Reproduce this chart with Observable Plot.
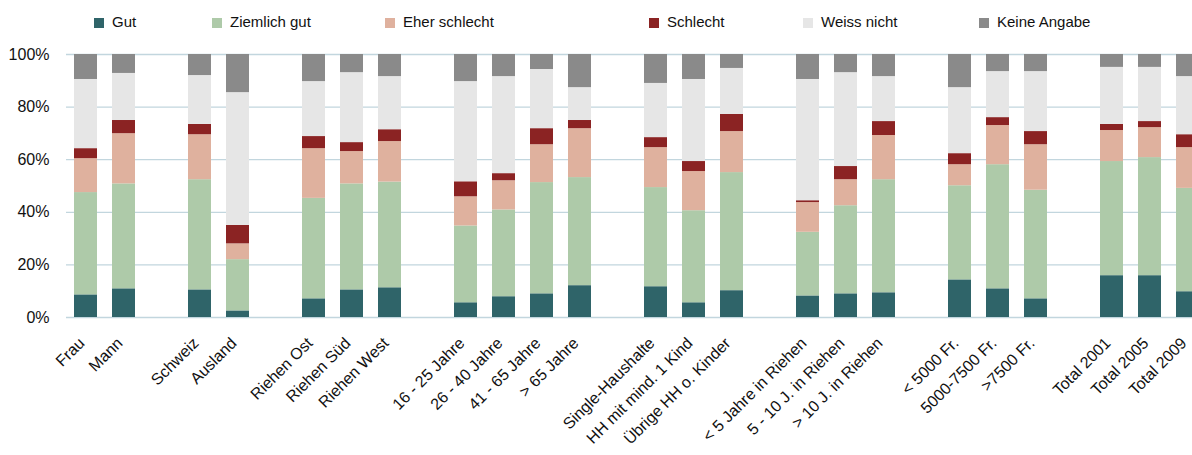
<!DOCTYPE html>
<html>
<head>
<meta charset="utf-8">
<script src="https://cdn.jsdelivr.net/npm/d3@7"></script>
<script src="https://cdn.jsdelivr.net/npm/@observablehq/plot@0.6"></script>
<style>
  html, body { margin: 0; padding: 0; background: #fff; }
  #wrap { position: relative; width: 1192px; height: 455px; overflow: hidden; font-family: "Liberation Sans", Arial, sans-serif; color: #111; }
  #legend { position: relative; height: 40px; }
  .li { position: absolute; top: 13px; font-size: 15px; line-height: 17px; white-space: nowrap; }
  .sw { position: absolute; top: 5px; width: 10px; height: 10px; }
  #chart svg { display: block; overflow: hidden; }
</style>
</head>
<body>
<div id="wrap">
  <div id="legend"></div>
  <div id="chart"></div>
</div>
<script>
const categories = ["Frau","Mann","Schweiz","Ausland","Riehen Ost","Riehen Süd","Riehen West",
  "16 - 25 Jahre","26 - 40 Jahre","41 - 65 Jahre","> 65 Jahre",
  "Single-Haushalte","HH mit mind. 1 Kind","Übrige HH o. Kinder",
  "< 5 Jahre in Riehen","5 - 10 J. in Riehen","> 10 J. in Riehen",
  "< 5000 Fr.","5000-7500 Fr.",">7500 Fr.","Total 2001","Total 2005","Total 2009"];
const groupIds = [1,1,2,2,3,3,3,4,4,4,4,5,5,5,6,6,6,7,7,7,8,8,8];
const series = ["Gut","Ziemlich gut","Eher schlecht","Schlecht","Weiss nicht","Keine Angabe"];
const colors = ["#2f6469","#aecaa9","#dfb19e","#8b2323","#e6e6e6","#8a8a8a"];
const gut      = [8.6,10.9,10.5,2.5,7.1,10.5,11.3,5.6,7.9,9.0,12.1,11.7,5.6,10.2,8.2,9.0,9.4,14.3,10.9,7.1,15.9,15.9,9.8];
const ziemlich = [38.9,39.9,41.9,19.5,38.2,40.3,40.2,29.2,33.0,42.3,41.1,37.7,35.0,44.9,24.2,33.5,43.0,35.8,47.2,41.3,43.4,44.9,39.3];
const eher     = [12.9,19.1,17.1,6.0,18.9,12.3,15.4,11.1,11.1,14.4,18.6,15.2,14.9,15.6,11.3,9.9,16.8,8.0,14.9,17.3,11.8,11.4,15.5];
const schlecht = [3.8,5.0,3.9,7.0,4.6,3.4,4.5,5.7,2.7,6.1,3.1,3.8,3.8,6.5,0.7,5.0,5.3,4.2,3.0,5.0,2.3,2.3,4.9];
const weiss    = [26.3,17.9,18.6,50.5,20.9,26.6,20.2,38.1,36.9,22.5,12.5,20.6,31.2,17.5,46.1,35.7,17.1,25.1,17.5,22.8,21.7,20.6,22.1];
const keine    = [9.5,7.2,8.0,14.5,10.3,6.9,8.4,10.3,8.4,5.7,12.6,11.0,9.5,5.3,9.5,6.9,8.4,12.6,6.5,6.5,4.9,4.9,8.4];
const yTicks = [0,20,40,60,80,100];

const valueArrays = [gut, ziemlich, eher, schlecht, weiss, keine];

// x domain with one empty slot between groups
const domain = [];
categories.forEach((c, i) => {
  if (i > 0 && groupIds[i] !== groupIds[i-1]) domain.push("__gap" + i);
  domain.push(c);
});

const data = [];
categories.forEach((c, i) => {
  series.forEach((s, k) => data.push({cat: c, series: s, value: valueArrays[k][i]}));
});

// legend
const legendLeft = [94, 212, 385, 649, 803, 979];
const legend = document.getElementById("legend");
series.forEach((s, k) => {
  const item = document.createElement("div");
  item.className = "li";
  item.style.left = legendLeft[k] + "px";
  item.innerHTML = `<span class="sw" style="left:0;background:${colors[k]}"></span><span style="margin-left:18px">${s}</span>`;
  legend.appendChild(item);
});

const chart = Plot.plot({
  width: 1192,
  height: 415,
  marginTop: 14,
  marginBottom: 138,
  marginLeft: 66,
  marginRight: 0,
  style: {fontFamily: "'Liberation Sans', Arial, sans-serif", fontSize: "16px", color: "#111", overflow: "hidden"},
  x: {domain, range: [66, 1206], paddingInner: 0.4, paddingOuter: 0.2},
  y: {domain: [0, 100]},
  color: {domain: series, range: colors},
  marks: [
    Plot.ruleY(yTicks, {stroke: "#c2d6de", strokeWidth: 1.3}),
    Plot.barY(data, Plot.stackY({x: "cat", y: "value", z: "series", fill: "series", order: series})),
    Plot.axisY(yTicks, {tickSize: 0, tickPadding: 17, tickFormat: d => d + "%", label: null, fontSize: 16}),
    Plot.axisX(categories, {tickSize: 0, tickRotate: -45, tickPadding: 23, dx: -4, label: null, fontSize: 16})
  ]
});
document.getElementById("chart").appendChild(chart);
</script>
</body>
</html>
